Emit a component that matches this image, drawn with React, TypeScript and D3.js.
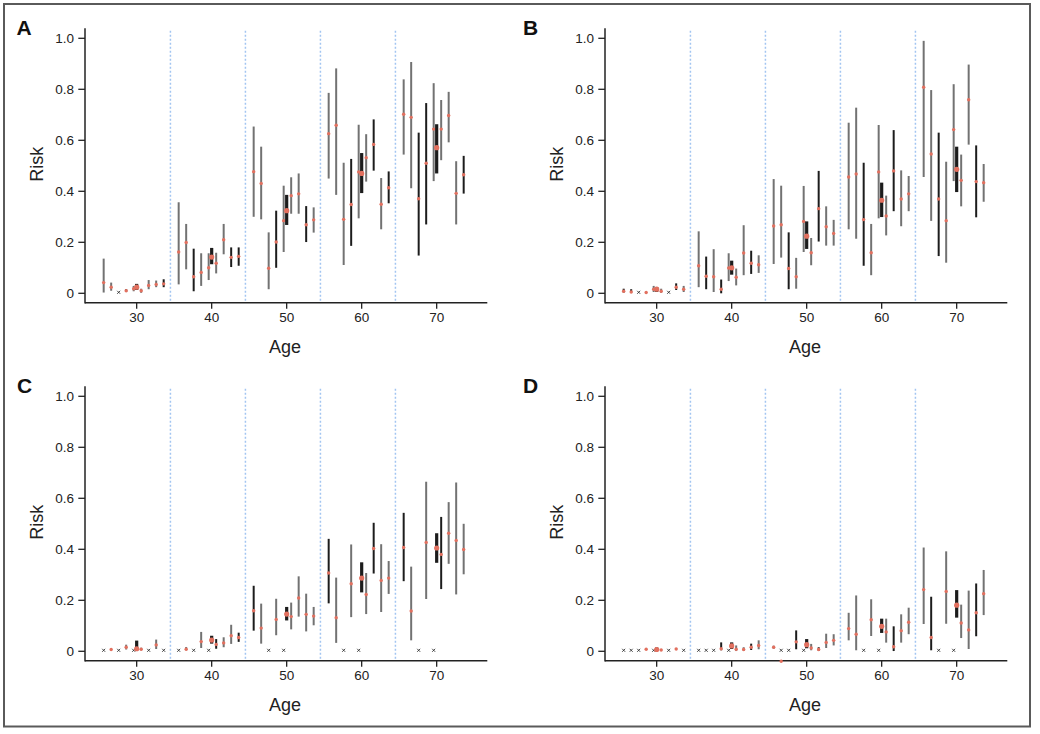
import React from 'react';
import * as d3 from 'd3';

// x positions (age) of each estimate: 9 single-year groups + decade aggregate per decade
const AGES = [
  25.6, 26.6, 27.6, 28.6, 29.6, 30, 30.6, 31.6, 32.6, 33.6,
  35.6, 36.6, 37.6, 38.6, 39.6, 40, 40.6, 41.6, 42.6, 43.6,
  45.6, 46.6, 47.6, 48.6, 49.6, 50, 50.6, 51.6, 52.6, 53.6,
  55.6, 56.6, 57.6, 58.6, 59.6, 60, 60.6, 61.6, 62.6, 63.6,
  65.6, 66.6, 67.6, 68.6, 69.6, 70, 70.6, 71.6, 72.6, 73.6,
];
const X_TICKS = [30, 40, 50, 60, 70];
const Y_TICKS = [0, 0.2, 0.4, 0.6, 0.8, 1.0];
const Y_TICK_LABELS = ['0', '0.2', '0.4', '0.6', '0.8', '1.0'];
const DIVIDERS = [34.5, 44.5, 54.5, 64.5];

// kind: g = grey interval, b = black interval, B = decade aggregate, x = no events
const estA = [
  0.042, 0.024, null, 0.01, 0.018, 0.024, 0.01, 0.031, 0.035, 0.037,
  0.162, 0.199, 0.065, 0.082, 0.10, 0.142, 0.118, 0.21, 0.141, 0.145,
  0.477, 0.431, 0.098, 0.201, 0.285, 0.324, 0.383, 0.39, 0.269, 0.288,
  0.626, 0.659, 0.29, 0.348, 0.476, 0.47, 0.532, 0.584, 0.349, 0.414,
  0.702, 0.69, 0.371, 0.51, 0.644, 0.571, 0.644, 0.697, 0.392, 0.465,
];
const lowA = [
  0.003, 0.01, null, 0.006, 0.008, 0.013, 0.002, 0.016, 0.024, 0.024,
  0.035, 0.094, 0.008, 0.029, 0.052, 0.114, 0.078, 0.153, 0.103, 0.108,
  0.30, 0.29, 0.016, 0.10, 0.162, 0.268, 0.312, 0.312, 0.201, 0.238,
  0.45, 0.386, 0.111, 0.186, 0.294, 0.393, 0.438, 0.481, 0.251, 0.353,
  0.544, 0.412, 0.148, 0.27, 0.44, 0.47, 0.522, 0.592, 0.27, 0.391,
];
const highA = [
  0.136, 0.042, null, 0.016, 0.029, 0.037, 0.018, 0.052, 0.05, 0.055,
  0.357, 0.272, 0.175, 0.157, 0.157, 0.178, 0.159, 0.272, 0.18, 0.18,
  0.654, 0.575, 0.239, 0.324, 0.422, 0.386, 0.455, 0.47, 0.342, 0.337,
  0.786, 0.882, 0.512, 0.527, 0.661, 0.55, 0.624, 0.682, 0.452, 0.478,
  0.839, 0.907, 0.63, 0.746, 0.824, 0.663, 0.758, 0.79, 0.518, 0.539,
];
const kindA = [
  'g', 'g', 'x', 'b', 'g', 'B', 'g', 'g', 'g', 'b',
  'g', 'g', 'b', 'g', 'g', 'B', 'g', 'g', 'b', 'b',
  'g', 'g', 'g', 'b', 'g', 'B', 'g', 'g', 'b', 'g',
  'g', 'g', 'g', 'b', 'g', 'B', 'g', 'b', 'g', 'b',
  'g', 'g', 'b', 'b', 'g', 'B', 'g', 'g', 'g', 'b',
];

const estB = [
  0.008, 0.005, null, 0.003, 0.016, 0.016, 0.008, null, 0.024, 0.016,
  0.108, 0.067, 0.065, 0.016, 0.099, 0.10, 0.063, 0.158, 0.118, 0.112,
  0.264, 0.269, 0.097, 0.065, 0.282, 0.224, 0.159, 0.332, 0.261, 0.235,
  0.456, 0.468, 0.289, 0.159, 0.476, 0.365, 0.303, 0.48, 0.37, 0.39,
  0.808, 0.546, 0.37, 0.285, 0.642, 0.486, 0.443, 0.759, 0.438, 0.434,
];
const lowB = [
  0.003, 0.002, null, 0.002, 0.005, 0.005, 0.002, null, 0.013, 0.005,
  0.024, 0.016, 0.005, 0.0, 0.048, 0.073, 0.031, 0.071, 0.076, 0.08,
  0.115, 0.14, 0.016, 0.018, 0.162, 0.174, 0.11, 0.203, 0.187, 0.187,
  0.251, 0.214, 0.108, 0.071, 0.294, 0.299, 0.227, 0.322, 0.263, 0.322,
  0.456, 0.284, 0.146, 0.12, 0.44, 0.397, 0.341, 0.583, 0.298, 0.359,
];
const highB = [
  0.018, 0.016, null, 0.004, 0.029, 0.024, 0.018, null, 0.039, 0.029,
  0.243, 0.144, 0.173, 0.054, 0.157, 0.128, 0.097, 0.267, 0.167, 0.149,
  0.448, 0.422, 0.239, 0.139, 0.421, 0.282, 0.217, 0.48, 0.341, 0.288,
  0.669, 0.728, 0.512, 0.272, 0.66, 0.434, 0.383, 0.64, 0.482, 0.46,
  0.99, 0.797, 0.63, 0.516, 0.82, 0.575, 0.544, 0.897, 0.58, 0.507,
];
const kindB = [
  'b', 'b', 'x', 'b', 'g', 'B', 'g', 'x', 'b', 'g',
  'g', 'b', 'g', 'b', 'g', 'B', 'g', 'g', 'b', 'g',
  'g', 'g', 'b', 'g', 'g', 'B', 'g', 'b', 'g', 'g',
  'g', 'g', 'b', 'g', 'g', 'B', 'g', 'b', 'g', 'g',
  'g', 'g', 'b', 'g', 'g', 'B', 'g', 'g', 'b', 'g',
];

const estC = [
  null, 0.007, null, 0.016, null, 0.01, 0.008, null, 0.025, null,
  null, 0.008, null, 0.038, null, 0.044, 0.027, 0.033, 0.061, 0.054,
  0.159, 0.091, null, 0.125, null, 0.146, 0.136, 0.209, 0.145, 0.138,
  0.307, 0.132, null, 0.265, null, 0.287, 0.223, 0.403, 0.278, 0.287,
  0.407, 0.158, null, 0.427, null, 0.405, 0.38, 0.463, 0.435, 0.399,
];
const lowC = [
  null, 0.007, null, 0.007, null, 0.004, 0.004, null, 0.009, null,
  null, 0.004, null, 0.013, null, 0.03, 0.01, 0.016, 0.029, 0.037,
  0.081, 0.03, null, 0.063, null, 0.121, 0.086, 0.136, 0.078, 0.102,
  0.188, 0.033, null, 0.134, null, 0.231, 0.146, 0.305, 0.154, 0.225,
  0.275, 0.043, null, 0.205, null, 0.347, 0.244, 0.343, 0.223, 0.302,
];
const highC = [
  null, 0.007, null, 0.026, null, 0.042, 0.014, null, 0.046, null,
  null, 0.017, null, 0.076, null, 0.061, 0.048, 0.055, 0.104, 0.073,
  0.257, 0.187, null, 0.206, null, 0.174, 0.191, 0.294, 0.226, 0.174,
  0.441, 0.289, null, 0.419, null, 0.349, 0.307, 0.504, 0.42, 0.354,
  0.543, 0.332, null, 0.665, null, 0.463, 0.527, 0.585, 0.662, 0.5,
];
const kindC = [
  'x', 'g', 'x', 'g', 'x', 'B', 'g', 'x', 'g', 'x',
  'x', 'g', 'x', 'g', 'x', 'B', 'b', 'g', 'g', 'b',
  'b', 'g', 'x', 'g', 'x', 'B', 'g', 'g', 'g', 'g',
  'b', 'g', 'x', 'g', 'x', 'B', 'g', 'b', 'g', 'g',
  'b', 'g', 'x', 'g', 'x', 'B', 'b', 'g', 'g', 'g',
];

const estD = [
  null, null, null, 0.008, null, 0.007, 0.005, null, 0.009, null,
  null, null, null, 0.01, null, 0.021, 0.008, 0.007, 0.016, 0.023,
  0.016, -0.039, null, 0.037, null, 0.026, 0.013, 0.007, 0.035, 0.043,
  0.089, 0.067, null, 0.124, null, 0.098, 0.076, 0.018, 0.081, 0.114,
  0.242, 0.054, null, 0.235, null, 0.181, 0.111, 0.084, 0.151, 0.226,
];
const lowD = [
  null, null, null, 0.006, null, 0.001, 0.003, null, 0.007, null,
  null, null, null, 0.004, null, 0.009, 0.001, 0.002, 0.005, 0.008,
  0.01, null, null, 0.008, null, 0.012, 0.004, 0.002, 0.013, 0.023,
  0.043, 0.004, null, 0.06, null, 0.072, 0.034, 0.001, 0.034, 0.067,
  0.107, 0.004, null, 0.108, null, 0.132, 0.052, 0.009, 0.059, 0.142,
];
const highD = [
  null, null, null, 0.01, null, 0.015, 0.007, null, 0.011, null,
  null, null, null, 0.035, null, 0.035, 0.023, 0.016, 0.03, 0.043,
  0.022, null, null, 0.082, null, 0.048, 0.029, 0.016, 0.069, 0.067,
  0.151, 0.219, null, 0.204, null, 0.128, 0.128, 0.098, 0.145, 0.171,
  0.407, 0.214, null, 0.392, null, 0.24, 0.183, 0.238, 0.266, 0.319,
];
const kindD = [
  'x', 'x', 'x', 'g', 'x', 'B', 'g', 'x', 'g', 'x',
  'x', 'x', 'x', 'b', 'x', 'B', 'g', 'g', 'b', 'g',
  'g', 'x', 'x', 'b', 'x', 'B', 'g', 'b', 'g', 'g',
  'g', 'g', 'x', 'g', 'x', 'B', 'g', 'b', 'g', 'g',
  'g', 'b', 'x', 'g', 'x', 'B', 'g', 'g', 'b', 'g',
];

const PANELS = [
  { label: 'A', dx: 0, dy: 0, lx: 16.5, est: estA, low: lowA, high: highA, kind: kindA },
  { label: 'B', dx: 520, dy: 0, lx: 3, est: estB, low: lowB, high: highB, kind: kindB },
  { label: 'C', dx: 0, dy: 358, lx: 17, est: estC, low: lowC, high: highC, kind: kindC },
  { label: 'D', dx: 520, dy: 358, lx: 3, est: estD, low: lowD, high: highD, kind: kindD },
];

const FONT = "'Liberation Sans', Arial, Helvetica, sans-serif";
const RED = '#e2705f';
const GREY = '#727272';
const BLACK = '#1c1c1c';
const AXIS = '#222';

function Panel({ p }: { p: any }) {
  const x = d3.scaleLinear().domain([23.11, 76.75]).range([85, 487.3]);
  const y = d3.scaleLinear().domain([0, 1]).range([293.3, 38.3]);
  const axisY = 302.7;
  return (
    <g transform={`translate(${p.dx},${p.dy})`}>
      <text x={p.lx} y={35} fontFamily={FONT} fontWeight="bold" fontSize={21} fill="#111">{p.label}</text>
      {DIVIDERS.map((d) => (
        <line key={d} x1={x(d)} x2={x(d)} y1={30.7} y2={axisY} stroke="#a3c5f1" strokeWidth={1.5} strokeDasharray="2,2" />
      ))}
      {/* y axis */}
      <line x1={85} x2={85} y1={28.3} y2={axisY + 0.75} stroke={AXIS} strokeWidth={1.5} />
      {Y_TICKS.map((t, i) => (
        <g key={t}>
          <line x1={78.3} x2={85} y1={y(t)} y2={y(t)} stroke={AXIS} strokeWidth={1.3} />
          <text x={74} y={y(t)} dy="0.35em" textAnchor="end" fontFamily={FONT} fontSize={13.5} fill="#222">{Y_TICK_LABELS[i]}</text>
        </g>
      ))}
      {/* x axis */}
      <line x1={85} x2={487.3} y1={axisY} y2={axisY} stroke={AXIS} strokeWidth={1.5} />
      {X_TICKS.map((t) => (
        <g key={t}>
          <line x1={x(t)} x2={x(t)} y1={axisY} y2={axisY + 6} stroke={AXIS} strokeWidth={1.3} />
          <text x={x(t)} y={321.7} textAnchor="middle" fontFamily={FONT} fontSize={13.5} fill="#222">{t}</text>
        </g>
      ))}
      <text x={285} y={352.5} textAnchor="middle" fontFamily={FONT} fontSize={18} fill="#222">Age</text>
      <text transform={`translate(42.5,164.3) rotate(-90)`} textAnchor="middle" fontFamily={FONT} fontSize={18} fill="#222">Risk</text>
      {AGES.map((a, i) => {
        const k = p.kind[i];
        const cx = x(a);
        const e = p.est[i];
        const lo = p.low[i];
        const hi = p.high[i];
        const big = k === 'B';
        return (
          <g key={i}>
            {k === 'x' && (
              <g stroke="#333" strokeWidth={0.9}>
                <line x1={cx - 1.5} x2={cx + 1.5} y1={y(0) - 2.5} y2={y(0) + 0.5} />
                <line x1={cx - 1.5} x2={cx + 1.5} y1={y(0) + 0.5} y2={y(0) - 2.5} />
              </g>
            )}
            {e != null && lo != null && hi != null && hi > lo && (
              <line x1={cx} x2={cx} y1={y(lo)} y2={y(hi)} stroke={k === 'g' ? GREY : BLACK} strokeWidth={big ? 3.2 : 2} />
            )}
            {e != null && <circle cx={cx} cy={y(e)} r={big ? 2.6 : 1.7} fill={RED} />}
          </g>
        );
      })}
    </g>
  );
}

export default function App() {
  return (
    <svg width={1040} height={734} style={{ position: 'absolute', left: 0, top: 0, background: '#fff' }}>
      <rect x={0} y={0} width={1040} height={734} fill="#fff" />
      <rect x={4} y={4} width={1026} height={722.5} fill="none" stroke="#5a5a5a" strokeWidth={2} />
      {PANELS.map((p) => (
        <Panel key={p.label} p={p} />
      ))}
    </svg>
  );
}
